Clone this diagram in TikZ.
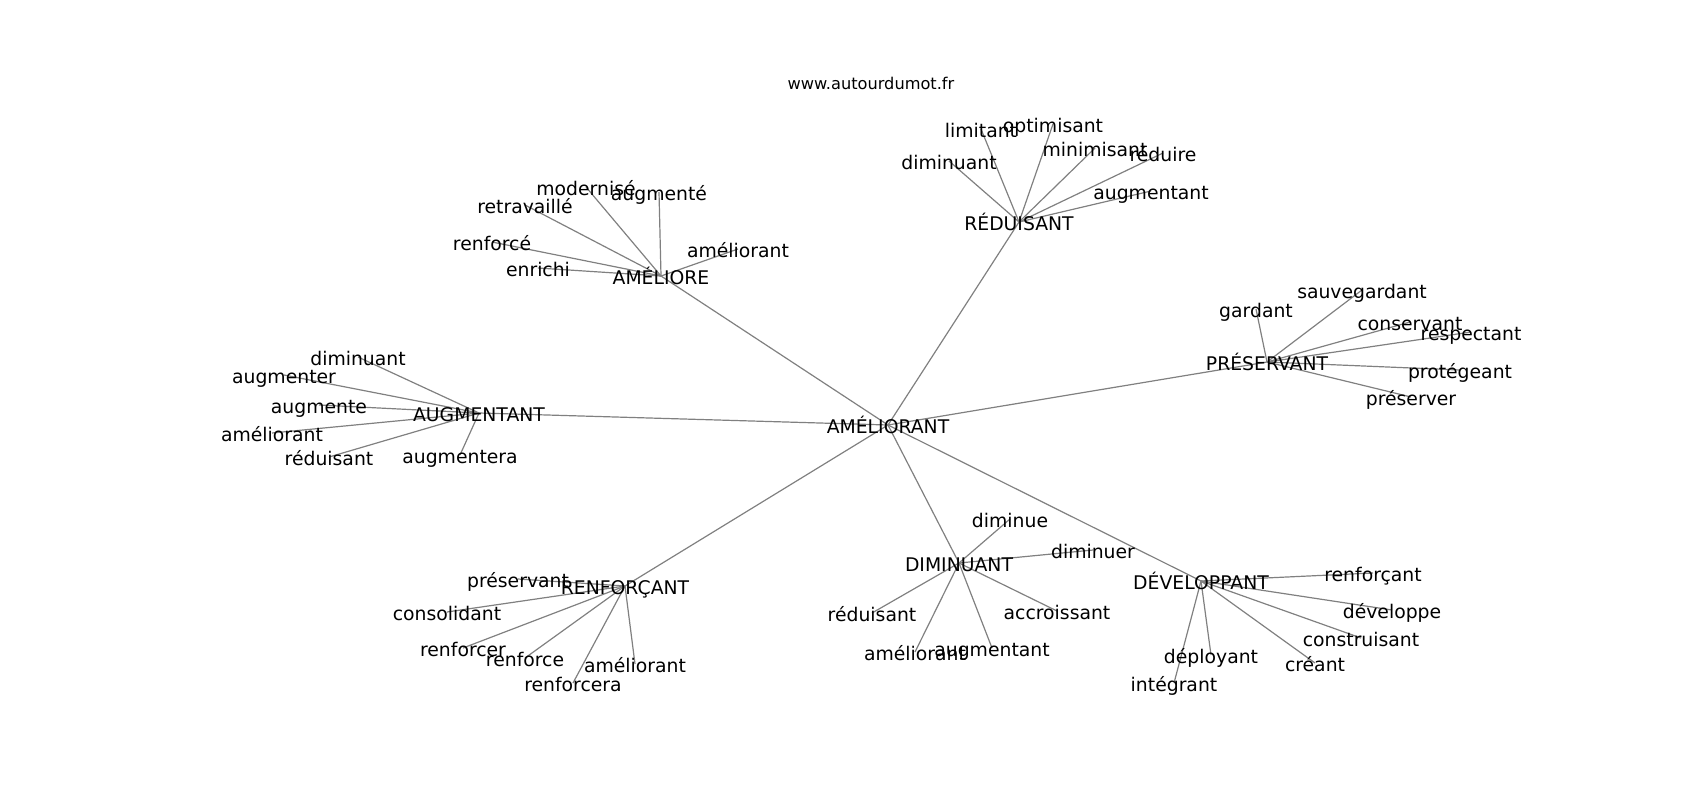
\documentclass[tikz,border=0pt]{standalone}
\usepackage{fontspec}
\setmainfont{DejaVu Sans}
\usetikzlibrary{backgrounds}

\begin{document}
\begin{tikzpicture}[x=1pt, y=-1pt,
    word/.style={inner sep=0pt, text height=17.6pt, text depth=1.2pt, font=\fontsize{18.8pt}{22pt}\selectfont},
    site/.style={inner sep=0pt, font=\fontsize{16.2pt}{19pt}\selectfont},
    line/.style={draw, gray, line width=1.2pt}
]
    \useasboundingbox (0,0) rectangle (1700,800);

    % Title
    \node [site] (site) at (871,83) {www.autourdumot.fr};

    % Centre
    \node [word] (root) at (888,425) {AMÉLIORANT};

    % Hubs
    \node [word] (amel) at (661,276) {AMÉLIORE};
    \node [word] (redu) at (1019,222) {RÉDUISANT};
    \node [word] (pres) at (1267,362) {PRÉSERVANT};
    \node [word] (augm) at (479,413) {AUGMENTANT};
    \node [word] (renf) at (625,586) {RENFORÇANT};
    \node [word] (dimi) at (959,563) {DIMINUANT};
    \node [word] (deve) at (1201,581) {DÉVELOPPANT};

    % AMÉLIORE
    \node [word] (amel1) at (586,187) {modernisé};
    \node [word] (amel2) at (659,192) {augmenté};
    \node [word] (amel3) at (525,205) {retravaillé};
    \node [word] (amel4) at (492,242) {renforcé};
    \node [word] (amel5) at (538,268) {enrichi};
    \node [word] (amel6) at (738,249) {améliorant};

    % RÉDUISANT
    \node [word] (redu1) at (981,129) {limitant};
    \node [word] (redu2) at (1053,124) {optimisant};
    \node [word] (redu3) at (949,161) {diminuant};
    \node [word] (redu4) at (1095,148) {minimisant};
    \node [word] (redu5) at (1163,153) {réduire};
    \node [word] (redu6) at (1151,191) {augmentant};

    % PRÉSERVANT
    \node [word] (pres1) at (1362,290) {sauvegardant};
    \node [word] (pres2) at (1256,309) {gardant};
    \node [word] (pres3) at (1410,322) {conservant};
    \node [word] (pres4) at (1471,332) {respectant};
    \node [word] (pres5) at (1460,370) {protégeant};
    \node [word] (pres6) at (1411,397) {préserver};

    % AUGMENTANT
    \node [word] (augm1) at (358,357) {diminuant};
    \node [word] (augm2) at (284,375) {augmenter};
    \node [word] (augm3) at (319,405) {augmente};
    \node [word] (augm4) at (272,433) {améliorant};
    \node [word] (augm5) at (329,457) {réduisant};
    \node [word] (augm6) at (460,455) {augmentera};

    % RENFORÇANT
    \node [word] (renf1) at (518,579) {préservant};
    \node [word] (renf2) at (447,612) {consolidant};
    \node [word] (renf3) at (463,648) {renforcer};
    \node [word] (renf4) at (525,658) {renforce};
    \node [word] (renf5) at (635,664) {améliorant};
    \node [word] (renf6) at (573,683) {renforcera};

    % DIMINUANT
    \node [word] (dimi1) at (1010,519) {diminue};
    \node [word] (dimi2) at (1093,550) {diminuer};
    \node [word] (dimi3) at (872,613) {réduisant};
    \node [word] (dimi4) at (1057,611) {accroissant};
    \node [word] (dimi5) at (915,652) {améliorant};
    \node [word] (dimi6) at (992,648) {augmentant};

    % DÉVELOPPANT
    \node [word] (deve1) at (1373,573) {renforçant};
    \node [word] (deve2) at (1392,610) {développe};
    \node [word] (deve3) at (1361,638) {construisant};
    \node [word] (deve4) at (1315,663) {créant};
    \node [word] (deve5) at (1211,655) {déployant};
    \node [word] (deve6) at (1174,683) {intégrant};

    % Connections
    \begin{scope}[on background layer]
    \path [line] (root.center) -- (amel.center);
    \path [line] (root.center) -- (redu.center);
    \path [line] (root.center) -- (pres.center);
    \path [line] (root.center) -- (augm.center);
    \path [line] (root.center) -- (renf.center);
    \path [line] (root.center) -- (dimi.center);
    \path [line] (root.center) -- (deve.center);

    \path [line] (amel.center) -- (amel1.center);
    \path [line] (amel.center) -- (amel2.center);
    \path [line] (amel.center) -- (amel3.center);
    \path [line] (amel.center) -- (amel4.center);
    \path [line] (amel.center) -- (amel5.center);
    \path [line] (amel.center) -- (amel6.center);

    \path [line] (redu.center) -- (redu1.center);
    \path [line] (redu.center) -- (redu2.center);
    \path [line] (redu.center) -- (redu3.center);
    \path [line] (redu.center) -- (redu4.center);
    \path [line] (redu.center) -- (redu5.center);
    \path [line] (redu.center) -- (redu6.center);

    \path [line] (pres.center) -- (pres1.center);
    \path [line] (pres.center) -- (pres2.center);
    \path [line] (pres.center) -- (pres3.center);
    \path [line] (pres.center) -- (pres4.center);
    \path [line] (pres.center) -- (pres5.center);
    \path [line] (pres.center) -- (pres6.center);

    \path [line] (augm.center) -- (augm1.center);
    \path [line] (augm.center) -- (augm2.center);
    \path [line] (augm.center) -- (augm3.center);
    \path [line] (augm.center) -- (augm4.center);
    \path [line] (augm.center) -- (augm5.center);
    \path [line] (augm.center) -- (augm6.center);

    \path [line] (renf.center) -- (renf1.center);
    \path [line] (renf.center) -- (renf2.center);
    \path [line] (renf.center) -- (renf3.center);
    \path [line] (renf.center) -- (renf4.center);
    \path [line] (renf.center) -- (renf5.center);
    \path [line] (renf.center) -- (renf6.center);

    \path [line] (dimi.center) -- (dimi1.center);
    \path [line] (dimi.center) -- (dimi2.center);
    \path [line] (dimi.center) -- (dimi3.center);
    \path [line] (dimi.center) -- (dimi4.center);
    \path [line] (dimi.center) -- (dimi5.center);
    \path [line] (dimi.center) -- (dimi6.center);

    \path [line] (deve.center) -- (deve1.center);
    \path [line] (deve.center) -- (deve2.center);
    \path [line] (deve.center) -- (deve3.center);
    \path [line] (deve.center) -- (deve4.center);
    \path [line] (deve.center) -- (deve5.center);
    \path [line] (deve.center) -- (deve6.center);
    \end{scope}
\end{tikzpicture}
\end{document}
